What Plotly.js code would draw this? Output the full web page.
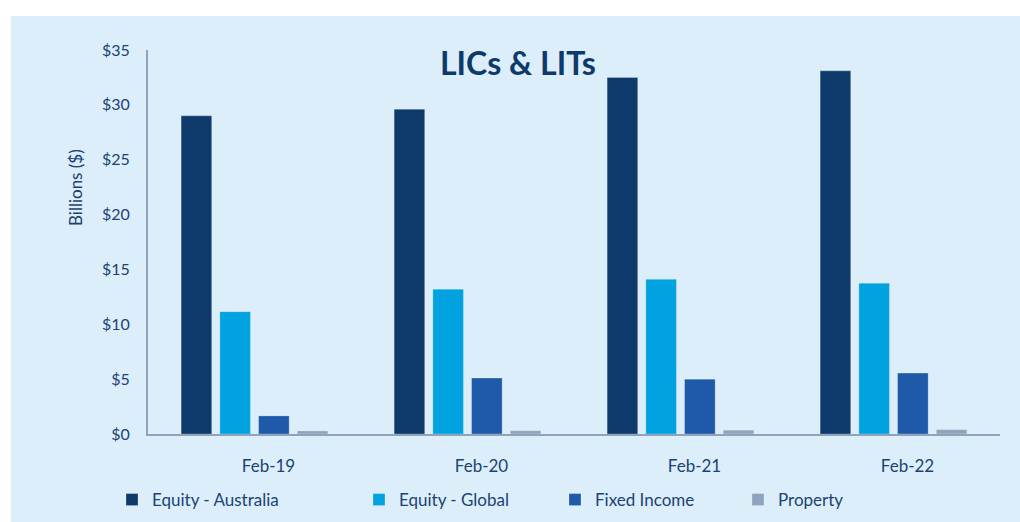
<!DOCTYPE html>
<html>
<head>
<meta charset="utf-8">
<script src="https://cdn.plot.ly/plotly-3.0.1.min.js"></script>
<style>html,body{margin:0;padding:0;background:#fff;}#chart{width:1020px;height:522px;}</style>
</head>
<body>
<div id="chart"></div>
<script>
var categories = ['Feb-19', 'Feb-20', 'Feb-21', 'Feb-22'];
var seriesNames = ['Equity - Australia', 'Equity - Global', 'Fixed Income', 'Property'];
var equityAustralia = [29.0, 29.6, 32.5, 33.1];
var equityGlobal = [11.15, 13.2, 14.1, 13.75];
var fixedIncome = [1.65, 5.1, 5.0, 5.55];
var property = [0.28, 0.3, 0.35, 0.4];
var yTickValues = [0, 5, 10, 15, 20, 25, 30, 35];
var yTickLabels = ['$0', '$5', '$10', '$15', '$20', '$25', '$30', '$35'];

var colors = ['#0d3a6b', '#00a2df', '#1f5aaa', '#8ea4bd'];
var values = [equityAustralia, equityGlobal, fixedIncome, property];
var legendIds = ['legend', 'legend2', 'legend3', 'legend4'];
var textColor = '#1d4274';
var font = 'Lato, "Open Sans", sans-serif';

var W = 1020, H = 522, L = 148, R = 20, T = 50, B = 88;
var pw = W - L - R, ph = H - T - B;
function px2x(p) { return (p - L) / pw; }
function px2y(p) { return (H - B - p) / ph; }

var traces = values.map(function (v, i) {
  return {
    type: 'bar', x: categories, y: v, name: seriesNames[i],
    marker: { color: colors[i], line: { color: 'rgba(255,255,255,0.25)', width: 1 } },
    legend: legendIds[i], hoverinfo: 'x+y+name'
  };
});

var legendSquareLeft = [131, 378, 574, 757];
var legendCommon = function (p) {
  return {
    orientation: 'h', x: px2x(p - 19), xanchor: 'left', y: px2y(500), yanchor: 'middle',
    bgcolor: 'rgba(0,0,0,0)', borderwidth: 0,
    font: { family: font, size: 17, color: textColor }
  };
};

var layout = {
  width: W, height: H,
  margin: { l: L, r: R, t: T, b: B, pad: 0, autoexpand: false },
  paper_bgcolor: '#ffffff',
  plot_bgcolor: 'rgba(0,0,0,0)',
  barmode: 'group', bargap: 0.273, bargroupgap: 0.21,
  font: { family: font, color: textColor },
  showlegend: true,
  legend: legendCommon(legendSquareLeft[0]),
  legend2: legendCommon(legendSquareLeft[1]),
  legend3: legendCommon(legendSquareLeft[2]),
  legend4: legendCommon(legendSquareLeft[3]),
  xaxis: {
    type: 'category', showgrid: false, zeroline: false,
    showline: true, linecolor: '#8fa3bb', linewidth: 2,
    ticks: '', ticklabelstandoff: 16, ticklabelshift: 14,
    tickfont: { family: font, size: 17, color: textColor }, fixedrange: true
  },
  yaxis: {
    range: [0, 35], tickmode: 'array', tickvals: yTickValues, ticktext: yTickLabels,
    showgrid: false, zeroline: false,
    showline: true, linecolor: '#8fa3bb', linewidth: 2,
    ticks: '', ticklabelstandoff: 13,
    tickfont: { family: font, size: 16, color: textColor }, fixedrange: true
  },
  shapes: [{
    type: 'rect', xref: 'paper', yref: 'paper', layer: 'below',
    x0: px2x(11), x1: px2x(1021), y0: px2y(523), y1: px2y(16),
    fillcolor: '#dbeef9', line: { width: 0 }
  }],
  annotations: [
    { text: '<b>LICs & LITs</b>', xref: 'paper', yref: 'paper', x: px2x(518), y: px2y(62),
      xanchor: 'center', yanchor: 'middle', showarrow: false,
      font: { family: font, size: 32, color: '#0d3a6b' } },
    { text: 'Billions ($)', xref: 'paper', yref: 'paper', x: px2x(75), y: px2y(188),
      xanchor: 'center', yanchor: 'middle', showarrow: false, textangle: -90,
      font: { family: font, size: 17, color: textColor } }
  ]
};

Plotly.newPlot('chart', traces, layout, { displayModeBar: false, staticPlot: true });
</script>
</body>
</html>
